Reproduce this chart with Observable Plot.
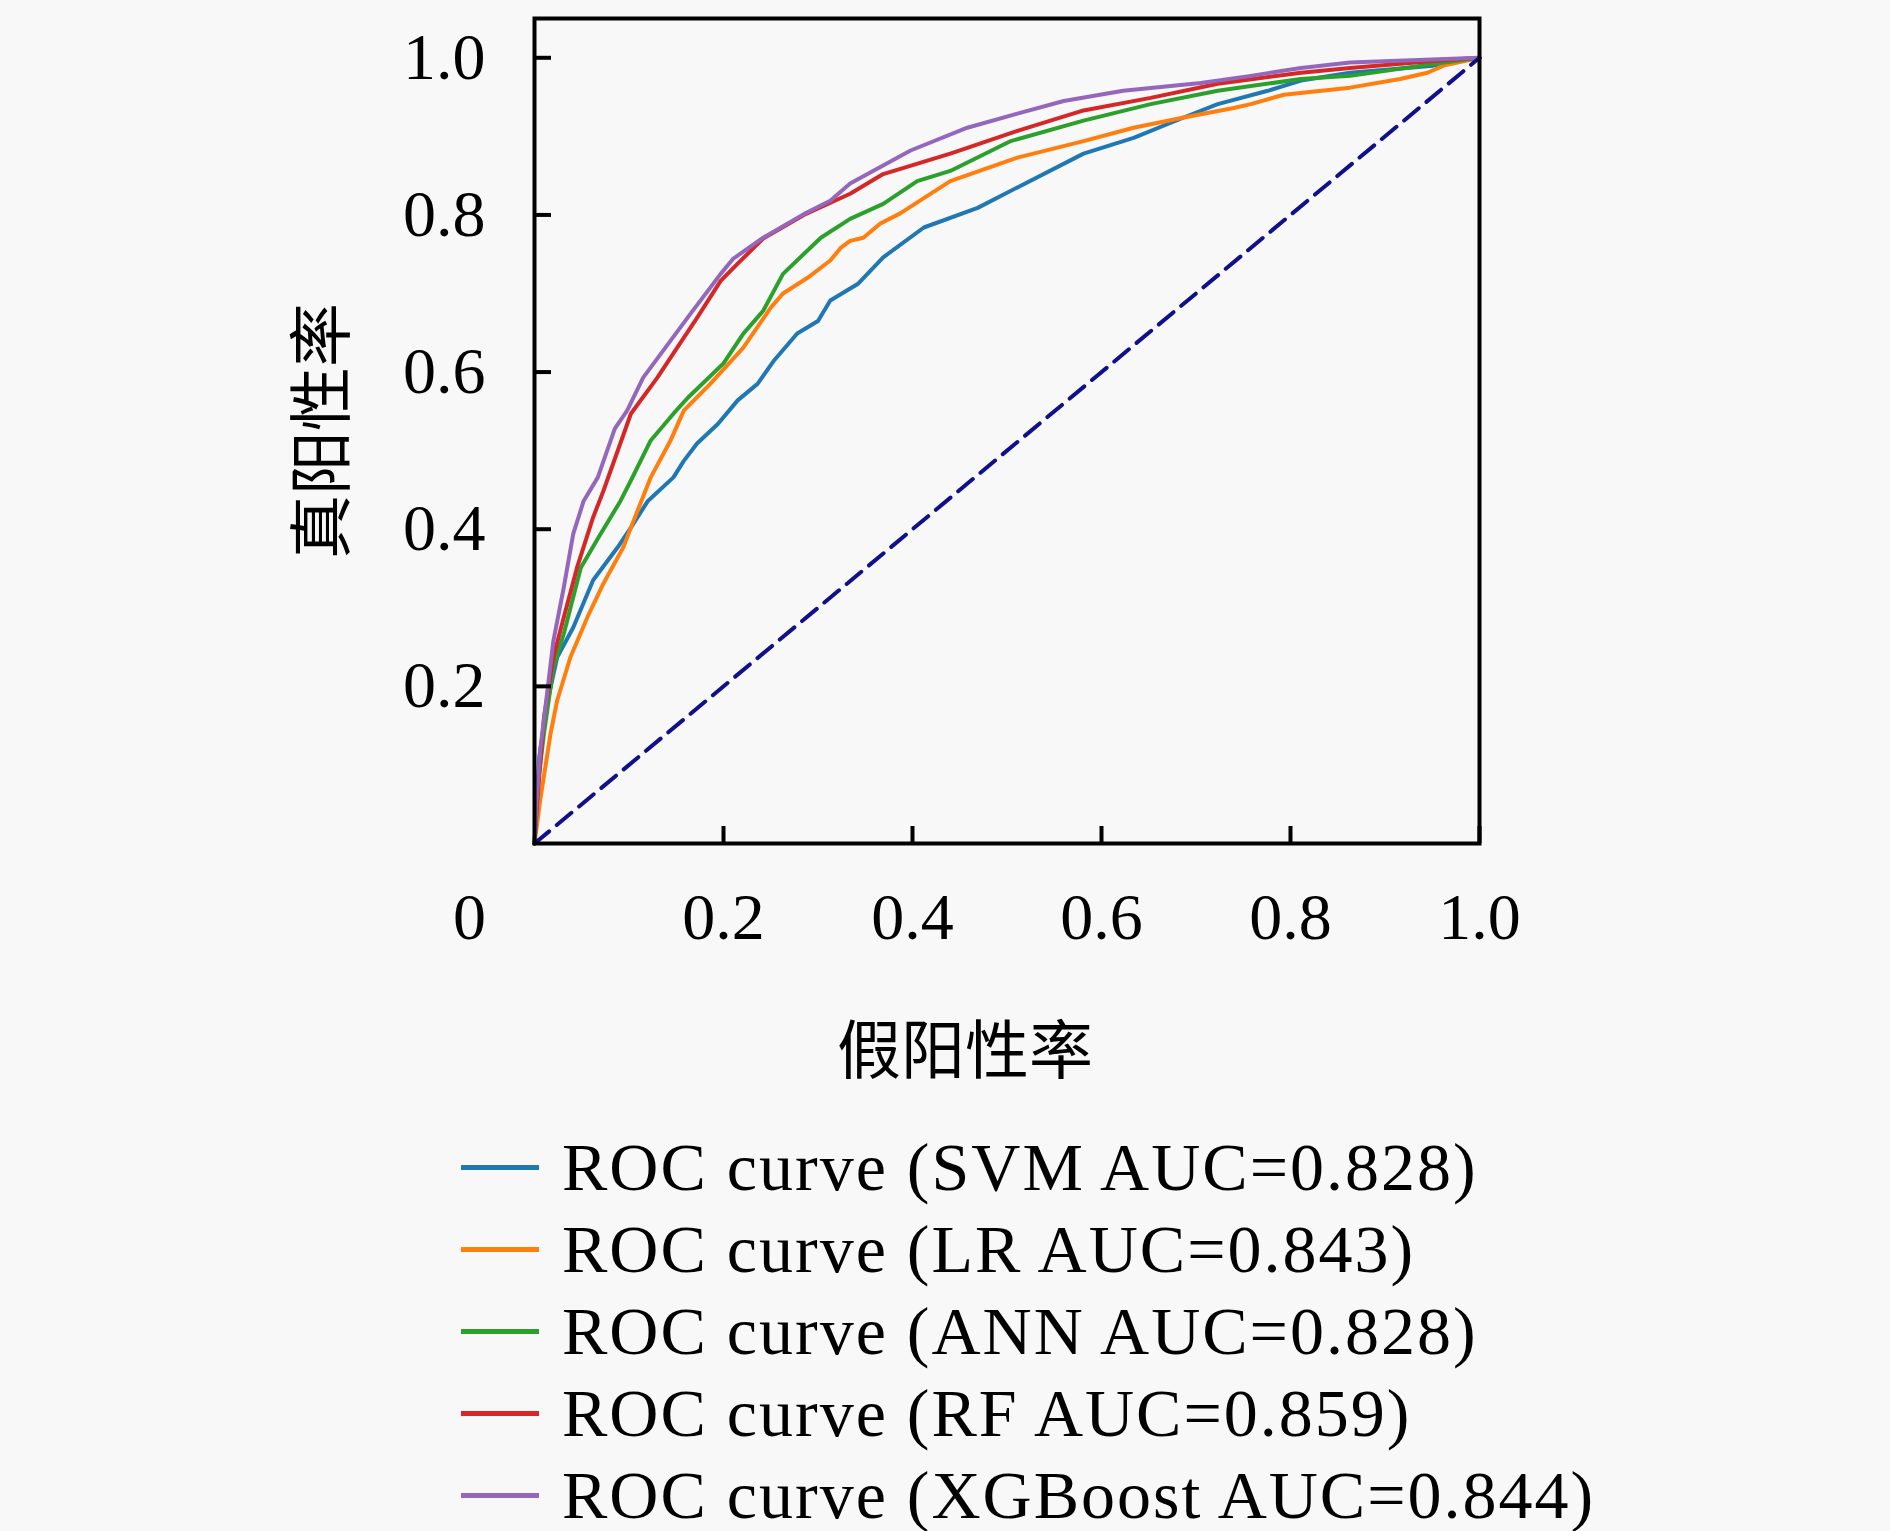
<!DOCTYPE html>
<html><head><meta charset="utf-8">
<script src="https://cdn.jsdelivr.net/npm/d3@7"></script>
<script src="https://cdn.jsdelivr.net/npm/@observablehq/plot@0.6"></script>
<style>
html,body{margin:0;padding:0;background:#f8f8f8;}
#wrap{position:relative;width:1890px;height:1531px;overflow:hidden;}
#legend{position:absolute;left:461px;top:1126px;font-family:"Liberation Serif",serif;font-size:68px;color:#000;}
.row{display:flex;align-items:center;height:82px;white-space:nowrap;letter-spacing:2px;}
.sw{width:78px;height:5px;margin-right:23px;flex:none;}
</style></head><body><div id="wrap"></div>
<script>
const models = ["SVM", "LR", "ANN", "RF", "XGBoost"];
const aucs = ["0.828", "0.843", "0.828", "0.859", "0.844"];
const colors = ["#1f77b4", "#ff7f0e", "#2ca02c", "#d62728", "#9467bd"];

const svmFpr = [0,0.005,0.014,0.024,0.041,0.062,0.088,0.102,0.12,0.147,0.158,0.172,0.194,0.215,0.236,0.253,0.278,0.3,0.313,0.342,0.369,0.412,0.469,0.511,0.581,0.634,0.687,0.723,0.776,0.811,0.863,0.951,1];
const svmTpr = [0,0.11,0.182,0.237,0.275,0.335,0.377,0.402,0.436,0.466,0.487,0.509,0.534,0.564,0.585,0.614,0.649,0.665,0.691,0.712,0.746,0.784,0.809,0.835,0.878,0.898,0.924,0.941,0.958,0.971,0.981,0.99,1];

const lrFpr = [0,0.006,0.017,0.024,0.038,0.056,0.073,0.094,0.102,0.123,0.144,0.158,0.186,0.221,0.25,0.263,0.289,0.313,0.324,0.334,0.348,0.366,0.387,0.44,0.511,0.581,0.634,0.687,0.74,0.758,0.793,0.863,0.916,0.945,0.962,1];
const lrTpr = [0,0.055,0.14,0.182,0.237,0.288,0.331,0.377,0.402,0.466,0.513,0.551,0.585,0.631,0.682,0.7,0.72,0.742,0.758,0.767,0.771,0.789,0.802,0.843,0.873,0.894,0.911,0.924,0.936,0.941,0.953,0.962,0.973,0.981,0.99,1];

const annFpr = [0,0.004,0.01,0.02,0.031,0.049,0.068,0.091,0.102,0.123,0.147,0.162,0.2,0.221,0.242,0.263,0.303,0.334,0.369,0.405,0.44,0.504,0.581,0.652,0.723,0.811,0.863,0.951,1];
const annTpr = [0,0.08,0.14,0.224,0.267,0.351,0.39,0.436,0.462,0.513,0.547,0.567,0.611,0.649,0.678,0.725,0.771,0.795,0.814,0.843,0.856,0.894,0.92,0.941,0.958,0.973,0.977,0.992,1];

const rfFpr = [0,0.003,0.01,0.02,0.031,0.045,0.062,0.073,0.102,0.13,0.151,0.172,0.197,0.215,0.242,0.285,0.334,0.369,0.44,0.511,0.581,0.652,0.723,0.811,0.863,0.951,1];
const rfTpr = [0,0.055,0.16,0.237,0.288,0.351,0.415,0.449,0.547,0.593,0.631,0.669,0.716,0.738,0.77,0.8,0.827,0.852,0.878,0.907,0.933,0.949,0.967,0.981,0.987,0.996,1];

const xgbFpr = [0,0.002,0.006,0.014,0.02,0.031,0.041,0.052,0.067,0.085,0.098,0.115,0.144,0.165,0.197,0.21,0.242,0.285,0.313,0.334,0.398,0.458,0.511,0.56,0.623,0.705,0.758,0.811,0.863,1];
const xgbTpr = [0,0.05,0.118,0.198,0.258,0.326,0.394,0.436,0.466,0.528,0.551,0.593,0.64,0.674,0.725,0.744,0.771,0.801,0.818,0.84,0.882,0.911,0.929,0.945,0.958,0.968,0.977,0.987,0.994,1];

const diagX = [0, 1];
const diagY = [0, 1];

const yTicks = [0.2, 0.4, 0.6, 0.8, 1.0];
const xTicks = [0.2, 0.4, 0.6, 0.8, 1.0];
const xZero = [0];
const xLabel = "假阳性率";
const yLabel = "真阳性率";

const fprs = [svmFpr, lrFpr, annFpr, rfFpr, xgbFpr];
const tprs = [svmTpr, lrTpr, annTpr, rfTpr, xgbTpr];
const rows = [];
models.forEach((m, k) => fprs[k].forEach((f, i) => rows.push({model: m, fpr: f, tpr: tprs[k][i]})));
const diag = diagX.map((d, i) => ({x: d, y: diagY[i]}));

const serif = "Liberation Serif, Times New Roman, serif";
const cjk = "Noto Sans CJK SC, sans-serif";

const chart = Plot.plot({
  width: 1890, height: 1120,
  marginLeft: 534, marginRight: 411, marginTop: 18, marginBottom: 277,
  style: {background: "transparent", fontFamily: serif, color: "#000"},
  x: {domain: [0, 1], axis: null},
  y: {domain: [0, 1.05], axis: null},
  color: {domain: models, range: colors},
  marks: [
    Plot.line(rows, {x: "fpr", y: "tpr", z: "model", stroke: "model", strokeWidth: 4}),
    Plot.line(diag, {x: "x", y: "y", stroke: "#10108a", strokeWidth: 4, strokeDasharray: "19,10"}),
    Plot.ruleY(yTicks, {y: d => d, insetRight: 928, stroke: "#000", strokeWidth: 4}),
    Plot.ruleX(xTicks, {x: d => d, insetTop: 808, stroke: "#000", strokeWidth: 4}),
    Plot.text(yTicks, {y: d => d, text: d => d.toFixed(1), frameAnchor: "left", dx: -49, textAnchor: "end", fontSize: 66, fontFamily: serif}),
    Plot.text(xTicks, {x: d => d, text: d => d.toFixed(1), frameAnchor: "bottom", dy: 74, lineAnchor: "middle", textAnchor: "middle", fontSize: 66, fontFamily: serif}),
    Plot.text(xZero, {x: d => d, text: () => "0", frameAnchor: "bottom", dx: -65, dy: 74, lineAnchor: "middle", textAnchor: "middle", fontSize: 66, fontFamily: serif}),
    Plot.text([xLabel], {text: d => d, frameAnchor: "bottom", dx: -42, dy: 209, lineAnchor: "middle", textAnchor: "middle", fontSize: 64, fontFamily: cjk}),
    Plot.text([yLabel], {text: d => d, frameAnchor: "left", dx: -211, rotate: -90, lineAnchor: "middle", textAnchor: "middle", fontSize: 64, fontFamily: cjk}),
    Plot.frame({stroke: "#000", strokeWidth: 4})
  ]
});
const wrap = document.getElementById("wrap");
wrap.appendChild(chart);

const legend = document.createElement("div");
legend.id = "legend";
models.forEach((m, k) => {
  const row = document.createElement("div");
  row.className = "row";
  const sw = document.createElement("span");
  sw.className = "sw";
  sw.style.background = colors[k];
  const t = document.createElement("span");
  t.textContent = `ROC curve (${m} AUC=${aucs[k]})`;
  row.appendChild(sw); row.appendChild(t);
  legend.appendChild(row);
});
wrap.appendChild(legend);
</script></body></html>
